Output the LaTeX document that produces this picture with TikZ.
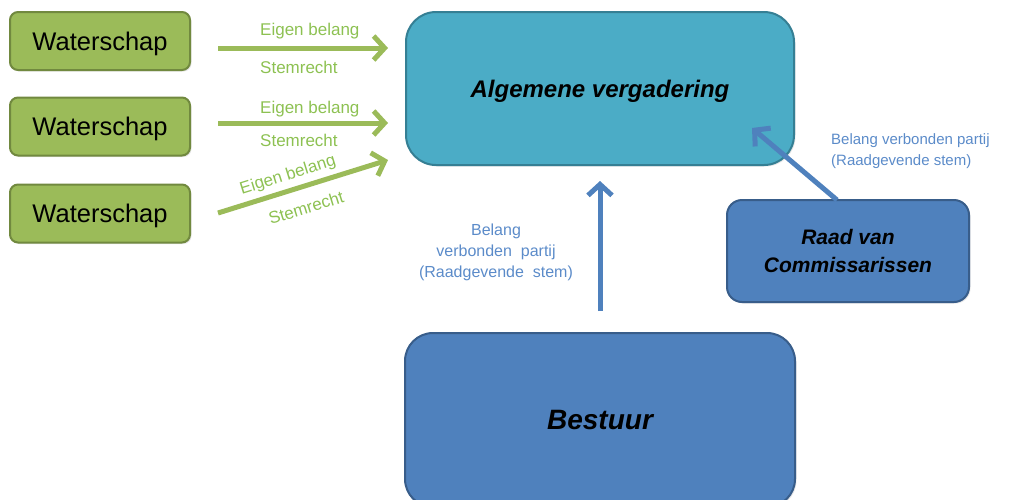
\documentclass[tikz,border=0pt]{standalone}
\usepackage{fontspec}
\setmainfont{Liberation Sans}
\usetikzlibrary{arrows.meta,shadows}
\definecolor{wsfill}{HTML}{9BBB59}
\definecolor{wsdraw}{HTML}{71893F}
\definecolor{gtext}{HTML}{8DC152}
\definecolor{avfill}{HTML}{4BACC6}
\definecolor{avdraw}{HTML}{357F94}
\definecolor{bfill}{HTML}{4F81BD}
\definecolor{bdraw}{HTML}{385D8A}
\definecolor{btext}{HTML}{5B8BC9}
\tikzset{
  boxshadow/.style={drop shadow={opacity=0.2,shadow xshift=1.5pt,shadow yshift=-1.5pt}},
  wsbox/.style={draw=wsdraw,line width=2pt,fill=wsfill,rounded corners=8pt,boxshadow,text depth=0pt,
    minimum width=180pt,minimum height=58pt,inner sep=0pt,font=\fontsize{25.5}{30}\selectfont},
  avbox/.style={draw=avdraw,line width=2pt,fill=avfill,rounded corners=30pt,boxshadow,text depth=0pt,
    minimum width=388pt,minimum height=153pt,inner sep=0pt,font=\fontsize{24}{29}\selectfont\bfseries\itshape},
  bbox/.style={draw=bdraw,line width=2pt,fill=bfill,rounded corners=28pt,boxshadow,
    minimum width=390pt,minimum height=174pt,inner sep=0pt,font=\fontsize{28}{33}\selectfont\bfseries\itshape},
  rbox/.style={draw=bdraw,line width=2pt,fill=bfill,rounded corners=15pt,boxshadow,
    minimum width=242pt,minimum height=102pt,inner sep=0pt,align=center,
    font=\fontsize{21}{28}\selectfont\bfseries\itshape},
  garrow/.style={draw=wsfill,line width=5pt,-{Straight Barb[length=11pt,width=24pt]}},
  barrow/.style={draw=bfill,line width=5pt,-{Straight Barb[length=11pt,width=24pt]}},
  glabel/.style={text=gtext,font=\fontsize{17}{20}\selectfont,inner sep=0pt},
  blabel/.style={text=btext,font=\fontsize{16}{21}\selectfont,inner sep=0pt},
}
\begin{document}
\begin{tikzpicture}[x=1pt,y=-1pt]
\useasboundingbox (0,0) rectangle (1017,499);
% boxes
\node[wsbox] (w1) at (100,41) {Waterschap};
\node[wsbox] (w2) at (100,126.5) {Waterschap};
\node[wsbox] (w3) at (100,213.5) {Waterschap};
\node[avbox] (av) at (600,88.5) {Algemene vergadering};
\node[rbox] (rc) at (848,251) {Raad van\\Commissarissen};
\node[bbox] (be) at (600,420) {Bestuur};
% connector ends
\coordinate (g1s) at (218,48);
\coordinate (g1e) at (388,48);
\coordinate (g2s) at (218,123);
\coordinate (g2e) at (388,123);
\coordinate (g3s) at (218,213);
\coordinate (g3e) at (388,160);
\coordinate (ds) at (837,200);
\coordinate (de) at (752,128);
% green arrows
\draw[garrow] (g1s) -- (g1e);
\draw[garrow] (g2s) -- (g2e);
\draw[garrow] (g3s) -- (g3e);
\node[glabel,anchor=west] (l1a) at (260,31) {Eigen belang};
\node[glabel,anchor=west] (l1b) at (260,67) {Stemrecht};
\node[glabel,anchor=west] (l2a) at (260,109) {Eigen belang};
\node[glabel,anchor=west] (l2b) at (260,140) {Stemrecht};
\node[glabel,rotate=17.3] (l3a) at (288,175.5) {Eigen belang};
\node[glabel,rotate=17.3] (l3b) at (306,207.5) {Stemrecht};
% blue arrows
\draw[barrow,shorten <=21pt,shorten >=15pt] (be.north) -- (av.south);
\draw[barrow] (ds) -- (de);
\node[blabel,align=center] (lb) at (496,252) {Belang\\verbonden\ \ partij\\(Raadgevende\ \ stem)};
\node[blabel,align=left,anchor=north west,font=\fontsize{15}{21}\selectfont] (lr) at (831,133) {Belang verbonden partij\\(Raadgevende stem)};
\end{tikzpicture}
\end{document}
